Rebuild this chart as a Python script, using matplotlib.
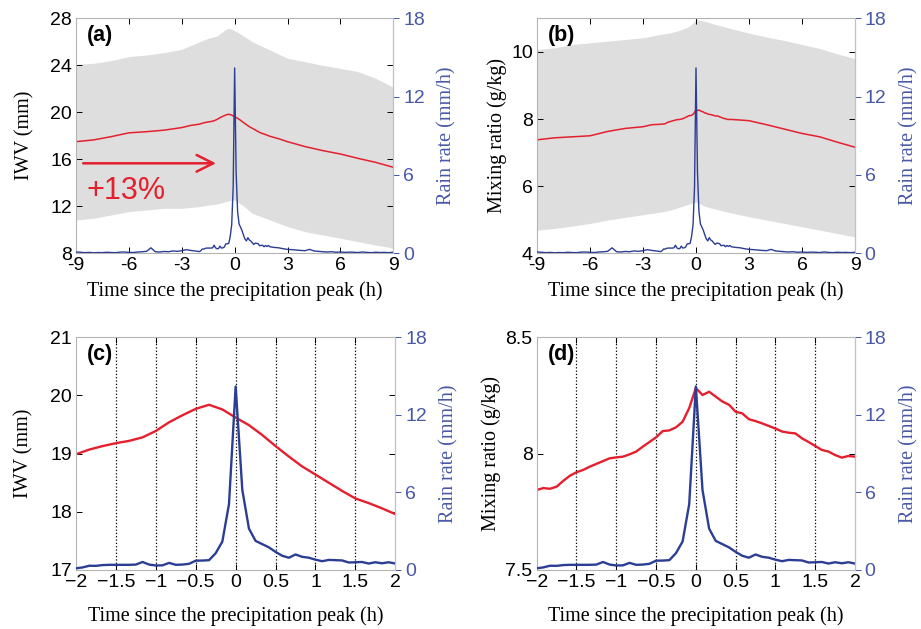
import numpy as np
import matplotlib.pyplot as plt

plt.rcParams['font.family'] = 'Liberation Sans'

RED = '#e4202e'
BLUE = '#2c3d94'
BLUE_TXT = '#4858a6'
GREY = '#dedede'

# ---- rain rate (mm/h), 5-min resolution between -2 h and 2 h
t_fine = np.arange(49) / 12 - 2
rain_fine = [0.13, 0.2, 0.33, 0.32, 0.38, 0.4, 0.4, 0.4, 0.4, 0.42, 0.62, 0.42,
             0.35, 0.36, 0.55, 0.4, 0.42, 0.48, 0.72, 0.73, 0.76, 1.3, 2.2, 5.1,
             14.2, 6.2, 3.2, 2.25, 2.0, 1.75, 1.4, 1.1, 0.95, 1.2, 1.02, 0.95,
             0.8, 0.68, 0.78, 0.76, 0.74, 0.58, 0.6, 0.62, 0.5, 0.6, 0.52, 0.6, 0.5]

# ---- rain rate outside +-2 h (15-min steps)
t_rain_left = np.arange(-9, -2, 0.25)
rain_left = [0.1, 0.08, 0.05, 0.07, 0.04, 0.06, 0.05, 0.08, 0.06, 0.05, 0.09, 0.1,
             0.07, 0.06, 0.1, 0.12, 0.15, 0.42, 0.12, 0.1, 0.14, 0.12, 0.18, 0.15,
             0.2, 0.28, 0.22, 0.18]
t_rain_right = np.arange(2.25, 9.01, 0.25)
rain_right = [0.45, 0.42, 0.35, 0.3, 0.28, 0.25, 0.22, 0.2, 0.3, 0.18, 0.15, 0.12,
              0.1, 0.12, 0.08, 0.1, 0.07, 0.09, 0.08, 0.06, 0.1, 0.07, 0.05, 0.08,
              0.06, 0.07, 0.05, 0.08]

# ---- IWV (mm), 10-min steps between -2 h and 2 h
t_iwv_fine = np.arange(25) / 6 - 2
iwv_fine = [18.99, 19.07, 19.13, 19.18, 19.22, 19.28, 19.39, 19.54, 19.66, 19.77,
            19.84, 19.76, 19.62, 19.49, 19.32, 19.13, 18.95, 18.78, 18.64, 18.50,
            18.36, 18.23, 18.15, 18.06, 17.96]
t_iwv_left = [-9, -8, -7, -6, -5, -4, -3, -2.5]
iwv_left = [17.5, 17.65, 17.93, 18.25, 18.35, 18.48, 18.7, 18.88]
t_iwv_right = [2.5, 3, 4, 5, 6, 7, 8, 9]
iwv_right = [17.75, 17.5, 17.08, 16.74, 16.45, 16.08, 15.74, 15.32]

# ---- mixing ratio (g/kg), 5-min steps between -2 h and 2 h
t_mr_fine = np.arange(49) / 12 - 2
mr_fine = [7.844, 7.852, 7.849, 7.858, 7.883, 7.905, 7.92, 7.93, 7.944, 7.956,
           7.968, 7.98, 7.984, 7.987, 7.997, 8.009, 8.03, 8.05, 8.07, 8.097,
           8.10, 8.113, 8.137, 8.196, 8.282, 8.252, 8.266, 8.245, 8.224, 8.21,
           8.18, 8.173, 8.148, 8.14, 8.13, 8.119, 8.108, 8.095, 8.09, 8.087,
           8.066, 8.05, 8.033, 8.016, 8.009, 7.994, 7.983, 7.99, 7.987]
t_mr_left = [-9, -8, -7, -6, -5, -4, -3, -2.5]
mr_left = [7.38, 7.44, 7.47, 7.50, 7.63, 7.72, 7.77, 7.83]
t_mr_right = [2.5, 3, 4, 5, 6, 7, 8, 9]
mr_right = [7.97, 7.95, 7.83, 7.70, 7.57, 7.47, 7.31, 7.16]

# ---- variability envelopes
t_band = [-9, -8, -7, -6, -5, -4, -3, -2, -1.5, -1, -0.5, -0.3, 0, 0.5, 1, 2, 3,
          4, 5, 6, 7, 8, 9]
iwv_hi = [24.08, 24.17, 24.4, 24.74, 24.88, 25.08, 25.36, 26.0, 26.3, 26.5, 27.06,
          27.15, 26.95, 26.5, 26.0, 25.3, 24.6, 24.3, 24.0, 23.74, 23.46, 22.9, 22.13]
iwv_lo = [10.84, 10.98, 11.26, 11.55, 11.69, 11.83, 11.83, 11.97, 12.1, 12.2, 12.4,
          12.48, 12.54, 12.03, 11.4, 10.84, 10.27, 9.84, 9.56, 9.28, 8.99, 8.71, 8.43]
mr_hi = [10.07, 10.12, 10.22, 10.27, 10.32, 10.37, 10.42, 10.52, 10.56, 10.63, 10.73,
         10.79, 10.96, 10.91, 10.83, 10.69, 10.56, 10.44, 10.34, 10.22, 10.10, 9.94, 9.80]
mr_lo = [4.69, 4.74, 4.81, 4.89, 4.99, 5.07, 5.15, 5.23, 5.28, 5.36, 5.45, 5.48,
         5.53, 5.40, 5.33, 5.20, 5.09, 4.99, 4.89, 4.79, 4.69, 4.59, 4.49]

# ---- ticks
xticks_long = [-9, -6, -3, 0, 3, 6, 9]
xlabels_long = ['-9', '-6', '-3', '0', '3', '6', '9']
xticks_short = [-2, -1.5, -1, -0.5, 0, 0.5, 1, 1.5, 2]
xlabels_short = ['\u22122', '\u22121.5', '\u22121', '\u22120.5', '0', '0.5', '1', '1.5', '2']
rain_ticks = [0, 6, 12, 18]

t_rain_all = np.concatenate([t_rain_left, t_fine, t_rain_right])
rain_all = np.concatenate([rain_left, rain_fine, rain_right])
t_iwv_all = np.concatenate([t_iwv_left, t_iwv_fine, t_iwv_right])
iwv_all = np.concatenate([iwv_left, iwv_fine, iwv_right])
t_mr_all = np.concatenate([t_mr_left, t_mr_fine, t_mr_right])
mr_all = np.concatenate([mr_left, mr_fine, mr_right])

fig = plt.figure(figsize=(9.21, 6.29), dpi=100)
W, H = 921, 629


def panel(box, letter, xlim, xticks, xlabels, ylim, yticks, ylabels, ylabel,
          ypad, xpad):
    x0, y0, x1, y1 = box
    ax = fig.add_axes([x0 / W, 1 - y1 / H, (x1 - x0) / W, (y1 - y0) / H])
    ax2 = ax.twinx()
    ax.set_xlim(xlim)
    ax.set_ylim(ylim)
    ax.set_xticks(xticks)
    ax.set_xticklabels(xlabels)
    ax.set_yticks(yticks)
    ax.set_yticklabels(ylabels)
    ax.tick_params(direction='in', top=True, right=True, length=4, width=0.7,
                   labelsize=14, pad=3)
    for s in ax.spines.values():
        s.set_color('#b4b4b4')
    ax.set_xlabel('Time since the precipitation peak (h)', family='Liberation Serif',
                  fontsize=14.5, labelpad=xpad)
    ax.set_ylabel(ylabel, family='Liberation Serif', fontsize=14.5, labelpad=ypad)
    ax.text(0.035, 0.97, letter, transform=ax.transAxes, fontsize=15.5,
            fontweight='bold', va='top', ha='left')

    ax2.set_ylim(0, 18)
    ax2.set_yticks(rain_ticks)
    ax2.tick_params(axis='y', direction='out', length=4, width=0.7, colors=BLUE_TXT,
                    labelsize=14, pad=3)
    for k in ['left', 'top', 'bottom']:
        ax2.spines[k].set_visible(False)
    ax2.spines['right'].set_color('#b8c0e2')
    ax2.set_ylabel('Rain rate (mm/h)', family='Liberation Serif', fontsize=14.5,
                   color=BLUE_TXT, labelpad=9)
    return ax, ax2


# (a)
ax, ax2 = panel((76, 18.3, 393.3, 253.3), '(a)', (-9, 9), xticks_long, xlabels_long,
                (8, 28), [8, 12, 16, 20, 24, 28], ['8', '12', '16', '20', '24', '28'],
                'IWV (mm)', 11, 5)
ax.fill_between(t_band, iwv_lo, iwv_hi, color=GREY, lw=0)
ax.plot(t_iwv_all, iwv_all, color=RED, lw=1.1)
ax.annotate('', xy=(-0.9, 15.66), xytext=(-8.75, 15.66),
            arrowprops=dict(arrowstyle='->', color=RED, lw=1.8, mutation_scale=30))
ax.text(-8.4, 13.3, '+13%', color=RED, fontsize=22, va='center', ha='left')
ax2.plot(t_rain_all, rain_all, color=BLUE, lw=1.0)

# (b)
ax, ax2 = panel((537, 18.3, 855, 253.3), '(b)', (-9, 9), xticks_long, xlabels_long,
                (4, 11), [4, 6, 8, 10], ['4', '6', '8', '10'], 'Mixing ratio (g/kg)',
                3, 5)
ax.fill_between(t_band, mr_lo, mr_hi, color=GREY, lw=0)
ax.plot(t_mr_all, mr_all, color=RED, lw=1.1)
ax2.plot(t_rain_all, rain_all, color=BLUE, lw=1.0)

# (c)
ax, ax2 = panel((76, 337.3, 395.3, 570), '(c)', (-2, 2), xticks_short, xlabels_short,
                (17, 21), [17, 18, 19, 20, 21], ['17', '18', '19', '20', '21'],
                'IWV (mm)', 12, 11)
for xt in xticks_short[1:-1]:
    ax.axvline(xt, color='k', ls=':', lw=0.9)
ax.plot(t_iwv_fine, iwv_fine, color=RED, lw=1.7)
ax2.plot(t_fine, rain_fine, color=BLUE, lw=1.7)

# (d)
ax, ax2 = panel((536.7, 337.3, 855, 570), '(d)', (-2, 2), xticks_short, xlabels_short,
                (7.5, 8.5), [7.5, 8, 8.5], ['7.5', '8', '8.5'], 'Mixing ratio (g/kg)',
                3, 11)
for xt in xticks_short[1:-1]:
    ax.axvline(xt, color='k', ls=':', lw=0.9)
ax.plot(t_mr_fine, mr_fine, color=RED, lw=1.7)
ax2.plot(t_fine, rain_fine, color=BLUE, lw=1.7)

fig.savefig('out.png', dpi=100)
